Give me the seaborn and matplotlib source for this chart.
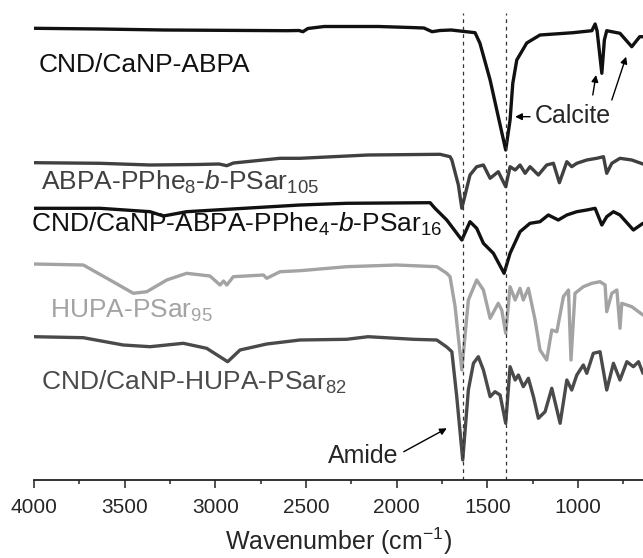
import matplotlib
matplotlib.use("Agg")
import matplotlib.pyplot as plt
import seaborn as sns
import pandas as pd

# ---------------- data (wavenumber in cm-1, offset transmittance a.u.) -------------
wn_cnd_abpa = [4000, 3636, 3283, 2605, 2540, 2517, 2490, 2400, 2100, 1926, 1850, 1805,
               1761, 1700, 1568, 1541, 1485, 1440, 1399, 1375, 1360, 1338, 1283, 1210,
               1028, 924, 906, 895, 869, 855, 842, 769, 704, 660, 642]
t_cnd_abpa = [451.7, 451, 450, 449.3, 449.5, 448.3, 451.5, 453.5, 453.5, 452.5, 452, 448.3,
              449.5, 450, 447.3, 436.7, 400, 363.3, 330, 360, 396.7, 420, 437, 445,
              447.3, 449.3, 456, 449, 406.7, 440, 449.3, 446.7, 433.3, 443.3, 443.3]

wn_abpa_pphe = [4000, 3636, 3360, 3100, 2980, 2937, 2900, 2643, 2533, 2158, 1761, 1706,
                1696, 1660, 1641, 1596, 1559, 1522, 1485, 1440, 1399, 1375, 1347, 1320,
                1292, 1265, 1219, 1173, 1136, 1103, 1062, 1035, 1007, 952, 897, 860,
                842, 814, 769, 704, 642]
t_abpa_pphe = [317.3, 316.7, 315, 315.5, 316, 314.3, 317, 321.7, 321.7, 325, 325.7, 323.3,
               320, 295, 271.7, 305, 313.3, 315, 301.7, 308.3, 293.3, 313.3, 310, 315,
               306.7, 313.3, 305, 315, 316.7, 297.3, 318.3, 313.3, 316.7, 320, 321.7, 323.3,
               306.7, 316.7, 321.7, 320, 316]

wn_cnd_abpa_pphe = [4000, 3636, 3360, 3287, 3158, 2533, 2276, 1816, 1789, 1724, 1641,
                    1596, 1559, 1522, 1467, 1408, 1375, 1320, 1265, 1210, 1164, 1109,
                    1062, 1007, 952, 906, 869, 842, 805, 769, 695, 642]
t_cnd_abpa_pphe = [271.7, 271.7, 268.3, 264, 268.3, 275, 276.7, 277.3, 271.7, 260, 240,
                   258.3, 251.7, 236.7, 226.7, 206.7, 226.7, 248.3, 256.7, 258.3, 265, 260,
                   265, 268.3, 270, 271.7, 255, 263.3, 268.3, 265, 250, 256.7]

wn_hupa = [4000, 3728, 3581, 3452, 3378, 3268, 3158, 3030, 2974, 2955, 2937, 2901, 2735,
           2717, 2643, 2533, 2276, 2000, 1779, 1724, 1706, 1678, 1641, 1605, 1559, 1522,
           1485, 1440, 1421, 1399, 1375, 1347, 1320, 1302, 1274, 1237, 1210, 1173, 1145,
           1117, 1081, 1053, 1039, 1017, 971, 924, 879, 851, 842, 814, 786, 769, 759,
           704, 642]
t_hupa = [216, 215, 200, 186.7, 188.3, 200, 206.7, 204, 195, 199, 195, 203.3, 205,
          201.7, 208.3, 209.3, 213.3, 215, 213.3, 206.7, 203.3, 173.3, 110, 180, 200, 190,
          161.7, 176.7, 170, 146.7, 193.3, 180, 191.7, 180, 191.7, 160, 130, 120, 150,
          148.3, 183.3, 190, 120, 186.7, 193.3, 196.7, 198.3, 195, 168.3, 186.7, 190, 151.7, 176.7,
          173.3, 165]

wn_cnd_hupa = [4000, 3728, 3508, 3360, 3177, 3048, 2932, 2864, 2717, 2533, 2276, 2158,
               1908, 1779, 1724, 1696, 1669, 1636, 1605, 1577, 1550, 1522, 1485, 1458,
               1430, 1399, 1375, 1347, 1329, 1302, 1274, 1246, 1219, 1182, 1145, 1099,
               1062, 1035, 1007, 971, 952, 916, 879, 842, 805, 769, 731, 695, 667, 642]
t_cnd_hupa = [143.3, 142.3, 135, 133.3, 136.7, 131.7, 118.3, 130, 136, 140, 140.7, 143.3,
              140.7, 140, 133, 128.3, 83.3, 20, 90, 116.7, 123.3, 110, 83.3, 88.3,
              85, 56.7, 113.3, 100, 105, 93.3, 101.7, 83.3, 61.7, 68.3, 91.7, 56.7,
              100, 90, 105, 115, 106.7, 126.7, 128.3, 90, 116.7, 100, 118.3, 113.3, 118.3, 106.7]

sample_names = ["CND/CaNP-ABPA",
                "ABPA-PPhe$_8$-$\\mathit{b}$-PSar$_{105}$",
                "CND/CaNP-ABPA-PPhe$_4$-$\\mathit{b}$-PSar$_{16}$",
                "HUPA-PSar$_{95}$",
                "CND/CaNP-HUPA-PSar$_{82}$"]
reference_bands = [1636, 1399]
tick_values = [4000, 3500, 3000, 2500, 2000, 1500, 1000]

# ---------------- style --------------------------------------------------------------
sns.set_theme(style="white")
plt.rcParams["font.family"] = ["Liberation Sans", "DejaVu Sans"]
plt.rcParams["mathtext.fontset"] = "custom"
plt.rcParams["mathtext.rm"] = "Liberation Sans"
plt.rcParams["mathtext.it"] = "Liberation Sans:italic"
plt.rcParams["mathtext.default"] = "regular"

fig = plt.figure(figsize=(6.43, 5.58), dpi=100)
ax = fig.add_axes([34 / 643, 78 / 558, 609 / 643, 480 / 558])

series = [
    (wn_cnd_abpa, t_cnd_abpa, "#111111"),
    (wn_abpa_pphe, t_abpa_pphe, "#404040"),
    (wn_cnd_abpa_pphe, t_cnd_abpa_pphe, "#111111"),
    (wn_hupa, t_hupa, "#a3a3a3"),
    (wn_cnd_hupa, t_cnd_hupa, "#4a4a4a"),
]
for name, (wn, tv, col) in zip(sample_names, series):
    df = pd.DataFrame({"wn": wn, "t": tv})
    sns.lineplot(data=df, x="wn", y="t", ax=ax, color=col, lw=2.4, sort=False,
                 estimator=None)

ax.vlines(reference_bands, 0, 467, colors="#333333", lw=0.9, linestyles=(0, (3, 3)))

ax.set_xlim(4000, 642)
ax.set_ylim(0, 480)
ax.set_xticks(tick_values)
ax.set_xticks([3750, 3250, 2750, 2250, 1750, 1250, 750], minor=True)
ax.set_yticks([])
ax.set_ylabel("")
ax.set_xlabel("Wavenumber (cm$^{-1}$)", fontsize=18, labelpad=6)
ax.tick_params(axis="x", which="major", direction="out", length=6, width=1.1,
               labelsize=15, pad=7, bottom=True, color="#222222")
ax.tick_params(axis="x", which="minor", direction="out", length=3, width=1.1,
               bottom=True, color="#222222")
for s in ["left", "top", "right"]:
    ax.spines[s].set_visible(False)
ax.spines["bottom"].set_linewidth(1.3)
ax.spines["bottom"].set_color("#222222")

# labels
label_specs = [
    (3972, 408.3, "#111111"),
    (3961, 290, "#404040"),
    (4018, 248.3, "#111111"),
    (3912, 161.7, "#a3a3a3"),
    (3961, 90, "#4a4a4a"),
]
for name, (x, y, c) in zip(sample_names, label_specs):
    ax.text(x, y, name, fontsize=19, color=c, ha="left", va="baseline", clip_on=False)

arrow = dict(arrowstyle="-|>", lw=1.0, color="black", mutation_scale=10,
             shrinkA=0, shrinkB=0)
ax.text(1237, 356.7, "Calcite", fontsize=18, ha="left", va="baseline")
ax.annotate("", xy=(1347, 363.3), xytext=(1265, 363.3), arrowprops=arrow)
ax.annotate("", xy=(901, 405), xytext=(919, 385), arrowprops=arrow)
ax.annotate("", xy=(735, 423.3), xytext=(814, 380), arrowprops=arrow)

ax.text(2379, 17, "Amide", fontsize=18, ha="left", va="baseline")
ax.annotate("", xy=(1724, 51.7), xytext=(1961, 28.3), arrowprops=arrow)

fig.savefig("out.png", dpi=100, facecolor="white")
